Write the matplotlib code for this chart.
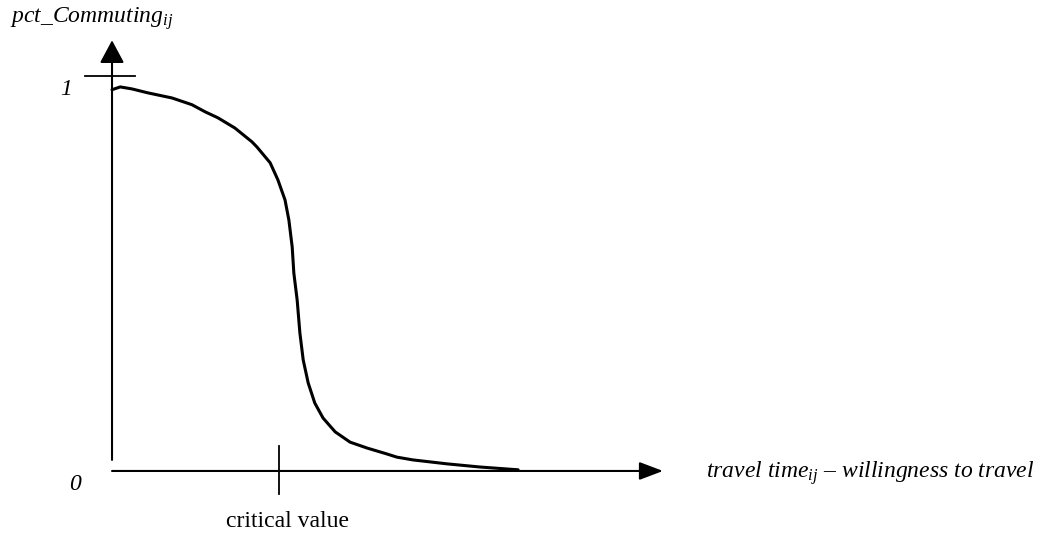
import numpy as np
import matplotlib
matplotlib.use("Agg")
import matplotlib.pyplot as plt

############################################################################## Data

# Curve (x in arbitrary travel-time units, y = share commuting)
travel_time = [0.00, 0.15, 0.36, 0.65, 1.09, 1.45, 1.69, 1.92, 2.23, 2.54,
               2.63, 2.87, 3.01, 3.14, 3.21, 3.27, 3.30, 3.36, 3.41, 3.47,
               3.56, 3.68, 3.83, 4.05, 4.32, 4.63, 4.99, 5.17, 5.46, 6.08,
               6.68, 7.17, 7.37]
pct_commuting = [0.965, 0.972, 0.967, 0.957, 0.944, 0.927, 0.909, 0.894, 0.868, 0.833,
                 0.820, 0.780, 0.737, 0.686, 0.635, 0.567, 0.501, 0.433, 0.349, 0.281,
                 0.223, 0.172, 0.134, 0.099, 0.073, 0.058, 0.043, 0.035, 0.028, 0.018,
                 0.010, 0.005, 0.003]

critical_value = 3.03
x_axis_end = 10.0
y_axis_end = 1.09

############################################################################## Style

plt.rcParams['font.family'] = ['Liberation Serif', 'DejaVu Serif']
plt.rcParams['mathtext.fontset'] = 'custom'
plt.rcParams['mathtext.it'] = 'Liberation Serif:italic'
plt.rcParams['mathtext.rm'] = 'Liberation Serif'
fs = 17

############################################################################## Plot

fig = plt.figure(figsize=(10.44, 5.33), dpi=100)
ax = fig.add_axes([0, 0, 1, 1])
ax.set_xlim(-2.033, 16.915)
ax.set_ylim(-0.157, 1.192)
ax.axis('off')

# axes with arrow heads
ax.annotate('', xy=(x_axis_end, 0), xytext=(0, 0),
            arrowprops=dict(arrowstyle='-|>,head_length=1.45,head_width=0.55',
                            mutation_scale=10, lw=1.5, color='black',
                            shrinkA=0, shrinkB=0))
ax.annotate('', xy=(0, y_axis_end), xytext=(0, 0.028),
            arrowprops=dict(arrowstyle='-|>,head_length=1.4,head_width=0.75',
                            mutation_scale=10, lw=1.5, color='black',
                            shrinkA=0, shrinkB=0))

# tick marks
ax.plot([-0.49, 0.42], [1.0, 1.0], color='black', lw=1.3)
ax.plot([critical_value, critical_value], [0.063, -0.058], color='black', lw=1.3)

# curve
ax.plot(travel_time, pct_commuting, color='black', lw=2.2,
        solid_capstyle='round', solid_joinstyle='round')

# labels
ax.text(-1.85, 1.134, r'pct_Commuting$_{ij}$', fontsize=fs, style='italic',
        ha='left', va='baseline')
ax.text(-0.83, 0.965, '1', fontsize=fs, style='italic', ha='center', va='center')
ax.text(-0.67, -0.035, '0', fontsize=fs, style='italic', ha='center', va='center')
ax.text(3.18, -0.129, 'critical value', fontsize=fs, ha='center', va='center')
ax.text(10.78, -0.005, r'travel time$_{ij}$ – willingness to travel', fontsize=fs,
        style='italic', ha='left', va='center')

fig.savefig('out.png', dpi=100)
